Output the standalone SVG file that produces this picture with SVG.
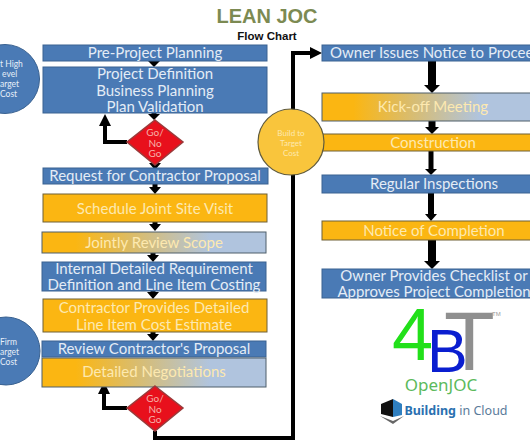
<svg xmlns="http://www.w3.org/2000/svg" width="530" height="442" viewBox="0 0 530 442">
<style>
text{font-family:"Lato","Liberation Sans",sans-serif;text-anchor:middle}
.l{font-size:15px;fill:#e4ecf6}
.y{font-size:15px;fill:#fde9b0}
.b{fill:#4a7ab5;stroke:#3a6291;stroke-width:1}
.o{fill:#fbb612;stroke:#6f6136;stroke-width:1}
.g{fill:url(#grad);stroke:#4f5f6a;stroke-width:1}
.d{fill:#e8101c;stroke:#9a3b3b;stroke-width:1.5}
.s{font-size:8.5px;fill:#e6eef8;text-anchor:start}
.dt{font-size:10px;fill:#f6b0a8}
.c{fill:none;stroke:#000;stroke-width:4}
.v{fill:none;stroke:#000;stroke-width:5}
.h{fill:#000}
.logo{font-family:"Liberation Sans",sans-serif;text-anchor:start}
</style>
<defs>
<linearGradient id="grad" x1="0" x2="1" y1="0" y2="0"><stop offset="0.15" stop-color="#fbb612"/><stop offset="0.75" stop-color="#b0c4de"/></linearGradient>
</defs>
<text x="267" y="23" style="font-size:20px;font-weight:700;fill:#7c8a52;font-family:'Liberation Sans',sans-serif">LEAN JOC</text>
<text x="267" y="40" style="font-size:11.5px;font-weight:700;fill:#111;font-family:'Liberation Sans',sans-serif">Flow Chart</text>

<g id="connectors">
<path class="v" d="M154 60v3M154 112v3M155 164v1M155 184v5M155 221v5M153 252v5M153 290v4M153 331v5M155 383v2"/>
<polygon class="h" points="154,67 148,61 160,61"/>
<polygon class="h" points="154,120 148,114 160,114"/>
<polygon class="h" points="155,170 149,163 161,163"/>
<polygon class="h" points="155,194 149,187 161,187"/>
<polygon class="h" points="155,231 149,224 161,224"/>
<polygon class="h" points="153,262 147,255 159,255"/>
<polygon class="h" points="153,299 147,292 159,292"/>
<polygon class="h" points="153,341 147,334 159,334"/>
<polygon class="h" points="155,390 149,384 161,384"/>
<path class="c" d="M127 142H105V125"/>
<polygon class="h" points="105,114 99,126 111,126"/>
<path class="c" d="M127 408H104V394"/>
<polygon class="h" points="104,382 98,394 110,394"/>
<path class="c" d="M155 431V438H293V53H312"/>
<polygon class="h" points="322,53 310,47 310,59"/>
<path d="M432 61V87" stroke="#000" stroke-width="8"/><polygon class="h" points="432,93 424,85 440,85"/>
<path d="M432 121V129" stroke="#000" stroke-width="7"/><polygon class="h" points="432,134 425,127 439,127"/>
<path d="M431 151V170" stroke="#000" stroke-width="5"/><polygon class="h" points="431,175 425,169 437,169"/>
<path d="M431 193V215" stroke="#000" stroke-width="6"/><polygon class="h" points="431,221 425,214 437,214"/>
<path d="M432 240V262" stroke="#000" stroke-width="8"/><polygon class="h" points="432,269 424,261 440,261"/>
</g>

<g id="circle-high"><circle cx="5" cy="79" r="34.5" class="b"/>
<text class="s" x="0" y="67">t High</text><text class="s" x="2" y="77">evel</text><text class="s" x="0" y="87">arget</text><text class="s" x="0" y="97">Cost</text></g>
<g id="circle-firm"><circle cx="6" cy="351" r="34" class="b"/>
<text class="s" x="0" y="345">Firm</text><text class="s" x="0" y="355">arget</text><text class="s" x="0" y="365">Cost</text></g>

<g id="pre-project"><rect class="b" x="43" y="45" width="224" height="16"/><text class="l" x="155" y="58">Pre-Project Planning</text></g>
<g id="project-def"><rect class="b" x="43" y="67" width="224" height="46"/>
<text class="l" x="155" y="79">Project Definition</text><text class="l" x="155" y="96">Business Planning</text><text class="l" x="155" y="112">Plan Validation</text></g>
<g id="go1"><polygon class="d" points="155,120 183,142 155,165 127,142"/>
<text class="dt" x="155" y="136">Go/</text><text class="dt" x="155" y="147">No</text><text class="dt" x="155" y="157">Go</text></g>
<g id="request"><rect class="b" x="43" y="168" width="225" height="16"/><text class="l" x="155" y="181">Request for Contractor Proposal</text></g>
<g id="schedule"><rect class="o" x="43" y="194" width="224" height="28"/><text class="y" x="155" y="214">Schedule Joint Site Visit</text></g>
<g id="jointly"><rect class="g" x="42" y="232" width="224" height="21"/><text class="y" x="154" y="248">Jointly Review Scope</text></g>
<g id="internal"><rect class="b" x="42" y="262" width="224" height="29"/>
<text class="l" x="154" y="274">Internal Detailed Requirement</text><text class="l" x="154" y="290">Definition and Line Item Costing</text></g>
<g id="contractor"><rect class="o" x="43" y="299" width="224" height="33"/>
<text class="y" x="154" y="313">Contractor Provides Detailed</text><text class="y" x="154" y="330">Line Item Cost Estimate</text></g>
<g id="review"><rect class="b" x="42" y="341" width="224" height="16"/><text class="l" x="154" y="354">Review Contractor's Proposal</text></g>
<g id="negotiations"><rect class="g" x="42" y="358" width="224" height="29"/><text class="y" x="154" y="377">Detailed Negotiations</text></g>
<g id="go2"><polygon class="d" points="155,386 183,408 155,431 127,408"/>
<text class="dt" x="155" y="402">Go/</text><text class="dt" x="155" y="413">No</text><text class="dt" x="155" y="423">Go</text></g>

<g id="owner-notice"><rect class="b" x="322" y="45" width="210" height="16"/><text class="l" x="330" y="58" style="text-anchor:start">Owner Issues Notice to Proceed</text></g>
<g id="kickoff"><rect class="g" x="322" y="93" width="210" height="28"/><text class="y" x="433" y="112">Kick-off Meeting</text></g>
<g id="construction"><rect class="o" x="322" y="134" width="210" height="17"/><text class="y" x="433" y="148">Construction</text></g>
<g id="inspections"><rect class="b" x="322" y="175" width="210" height="18"/><text class="l" x="434" y="189">Regular Inspections</text></g>
<g id="completion"><rect class="o" x="322" y="221" width="210" height="19"/><text class="y" x="434" y="236">Notice of Completion</text></g>
<g id="checklist"><rect class="b" x="322" y="269" width="210" height="29"/>
<text class="l" x="434" y="281">Owner Provides Checklist or</text><text class="l" x="434" y="297">Approves Project Completion</text></g>
<g id="build-target"><circle cx="291" cy="142" r="33" fill="#f9c53c" stroke="#5f5a3c" stroke-width="1.2"/>
<text x="291" y="136" style="font-size:8px;fill:#fde9b0">Build to</text><text x="291" y="146" style="font-size:8px;fill:#fde9b0">Target</text><text x="291" y="156" style="font-size:8px;fill:#fde9b0">Cost</text></g>

<g id="logo">
<text class="logo" x="444" y="370" style="font-size:83px;fill:#8f8f8f">T</text>
<text class="logo" x="392" y="360" style="font-size:74px;fill:#22e01a">4</text>
<text class="logo" x="427" y="372" style="font-size:61px;fill:#0a1ed0">B</text>
<text class="logo" x="492" y="316" style="font-size:6px;fill:#999">TM</text>
<text x="441" y="391" style="font-size:17px;fill:#5cba5c;font-family:'Noto Sans',sans-serif">OpenJOC</text>
<text x="456" y="415" style="font-size:12.5px;fill:#5a7a9a;font-family:'Noto Sans',sans-serif"><tspan font-weight="700" fill="#2a70b0">Building</tspan> in Cloud</text>
<path d="M381 404l12-5v18l-12-3z" fill="#111"/><path d="M393 399l9 5v11l-9 2z" fill="#2f7fc0"/><path d="M380 416l13 5 11-5-11 8z" fill="#666"/>
</g>
</svg>
